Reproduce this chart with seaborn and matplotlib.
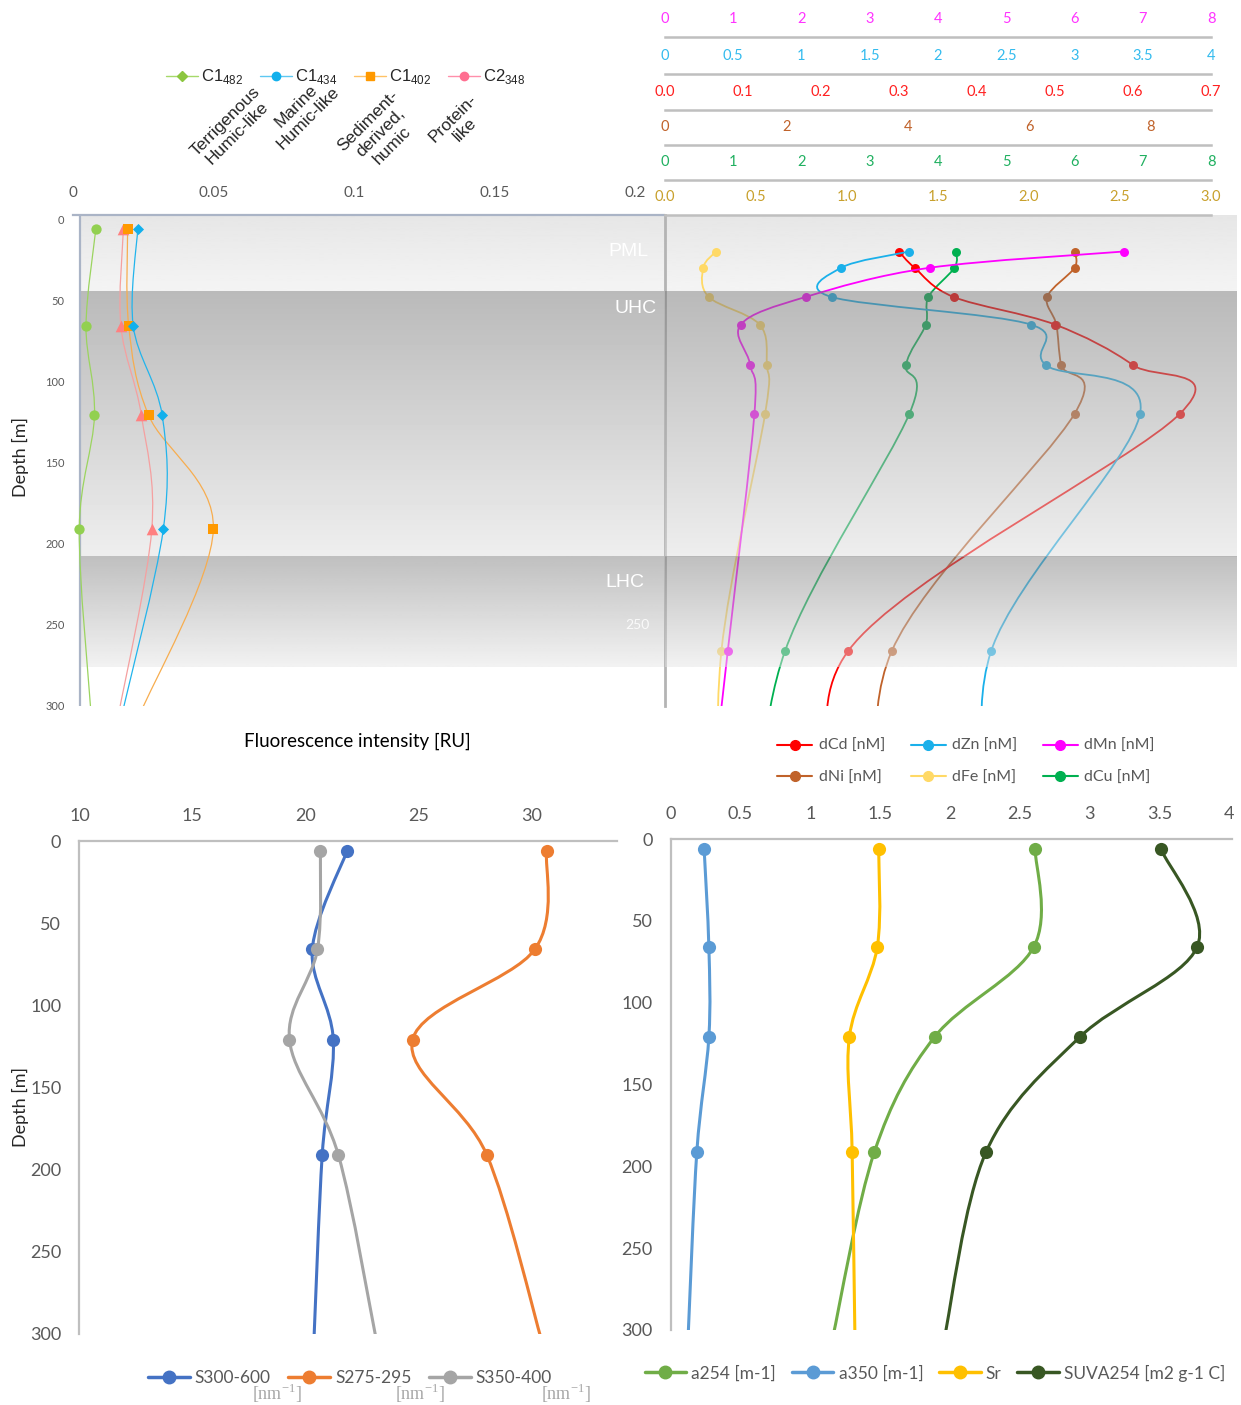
import numpy as np
import matplotlib
matplotlib.use("Agg")
import matplotlib.pyplot as plt
import matplotlib.ticker as mticker
from matplotlib.lines import Line2D
from matplotlib.path import Path
from matplotlib.patches import PathPatch
import seaborn as sns

sns.set_style("white")
plt.rcParams["font.family"] = ["Lato", "DejaVu Sans"]
plt.rcParams["mathtext.fontset"] = "custom"
plt.rcParams["mathtext.rm"] = "Liberation Sans"

# ─── DATA ────────────────────────────────────────────────────────────────────
# water-column layers (depth, m)
layer_names = ["PML", "UHC", "LHC"]
layer_top = [-2.5, 44.5, 208]
layer_bottom = [44.5, 208, 276]

# FDOM components, fluorescence intensity [RU]
fdom_depth = [6, 66, 121, 191, 305]
c1_482 = [0.0082, 0.0047, 0.0077, 0.0023, 0.0065]
c1_434 = [0.0231, 0.0215, 0.0318, 0.0322, 0.0175]
c1_402 = [0.0195, 0.0199, 0.0270, 0.0500, 0.0239]
c2_348 = [0.0180, 0.0171, 0.0244, 0.0281, 0.0163]

# dissolved trace metals [nM]
metal_depth = [20, 30, 48, 65, 90, 120, 266, 389]
dCd = [0.30, 0.32, 0.37, 0.50, 0.60, 0.66, 0.235, 0.249]
dZn = [1.79, 1.29, 1.22, 2.68, 2.79, 3.48, 2.39, 2.42]
dMn = [6.72, 3.88, 2.06, 1.11, 1.25, 1.31, 0.92, 0.59]
dNi = [6.75, 6.75, 6.30, 6.45, 6.53, 6.75, 3.74, 3.62]
dFe = [0.28, 0.21, 0.24, 0.52, 0.56, 0.55, 0.31, 0.30]
dCu = [4.27, 4.24, 3.86, 3.82, 3.53, 3.58, 1.76, 1.31]

# CDOM spectral slopes and absorption
cdom_depth = [6, 66, 121, 191, 305]
s300_600 = [21.85, 20.31, 21.24, 20.75, 20.38]
s275_295 = [30.68, 30.16, 24.75, 28.03, 30.48]
s350_400 = [20.67, 20.54, 19.30, 21.46, 23.16]
a254 = [2.61, 2.60, 1.89, 1.46, 1.16]
a350 = [0.24, 0.274, 0.274, 0.188, 0.125]
sr = [1.49, 1.48, 1.28, 1.30, 1.32]
suva254 = [3.51, 3.77, 2.93, 2.26, 1.96]

# ─── HELPERS ─────────────────────────────────────────────────────────────────
W, H = 1241, 1405
fig = plt.figure(figsize=(W / 100, H / 100), dpi=100)


def box(x0, y0, x1, y1):
    return [x0 / W, 1 - y1 / H, (x1 - x0) / W, (y1 - y0) / H]


def smooth(ax, xs, ys, color, lw):
    # Excel-like smoothed line: Catmull-Rom bezier in screen space
    pts = ax.transData.transform(np.column_stack([xs, ys]))
    ext = np.vstack([pts[0], pts, pts[-1]])
    verts, codes = [pts[0]], [Path.MOVETO]
    for i in range(len(pts) - 1):
        p0, p1, p2, p3 = ext[i], ext[i + 1], ext[i + 2], ext[i + 3]
        verts += [p1 + (p2 - p0) / 6, p2 - (p3 - p1) / 6, p2]
        codes += [Path.CURVE4] * 3
    verts = ax.transData.inverted().transform(np.array(verts))
    ax.add_patch(PathPatch(Path(verts, codes), fill=False, edgecolor=color,
                           lw=lw, zorder=3, capstyle="round"))


def dots(ax, xs, ys, color, marker="o", size=50):
    sns.scatterplot(x=xs, y=ys, ax=ax, color=color, marker=marker, s=size,
                    linewidth=0, zorder=4, legend=False)
    ax.set_xlabel("")
    ax.set_ylabel("")


GRAY_TXT = "#595959"

# ─── BACKGROUND LAYERS ───────────────────────────────────────────────────────
band_shades = [(230, 244), (186, 238), (192, 242)]
split = (665 - 80) / (1237 - 80)
ax_bg = fig.add_axes(box(80, 215, 1237, 706))
for i, (top, bot) in enumerate(zip(layer_top, layer_bottom)):
    ct, cb = band_shades[i]
    grad = np.linspace(ct, cb, 64).reshape(-1, 1)
    right = 1 if i == 0 else split
    ax_bg.imshow(grad, cmap="gray", vmin=0, vmax=255, extent=(0, right, bot, top),
                 aspect="auto", interpolation="bilinear")
ax_bg.set_xlim(0, 1)
ax_bg.set_ylim(300, -2.5)
ax_bg.set_axis_off()
label_y = {"PML": 20, "UHC": 55, "LHC": 224}
label_x = {"PML": 0.491, "UHC": 0.498, "LHC": 0.488}
for name in layer_names:
    ax_bg.text(label_x[name], label_y[name], name, color="white", fontsize=14,
               family="Liberation Sans", ha="right", va="center")
ax_bg.text(0.492, 250, "250", color="white", fontsize=10, ha="right", va="center", alpha=0.85)

# ─── TOP LEFT: FDOM ──────────────────────────────────────────────────────────
ax_f = fig.add_axes(box(72.8, 215, 664, 706))
ax_f.patch.set_alpha(0)
ax_f.set_xlim(0, 0.2103)
ax_f.set_ylim(300, -2.5)
fdom = [
    (c1_482, "#92d050", "o", 55),
    (c2_348, "#ff8080", "^", 70),
    (c1_402, "#ffa31a", "s", 60),
    (c1_434, "#12b0ec", "D", 32),
]
line_cols = {"#92d050": "#9bd45f", "#ff8080": "#f5a0a0", "#ffa31a": "#f7ad4f", "#12b0ec": "#22b4ec"}
for vals, col, mk, sz in fdom:
    smooth(ax_f, vals, fdom_depth, line_cols[col], 0.9)
for vals, col, mk, sz in fdom:
    dots(ax_f, vals, fdom_depth, col if col != "#ffa31a" else "#ff9900", mk, sz)
ax_f.axvline(0.0024, color="#aab4c6", lw=1.6, zorder=2)
for s in ["left", "right", "bottom"]:
    ax_f.spines[s].set_visible(False)
ax_f.spines["top"].set_color("#aab4c6")
ax_f.spines["top"].set_linewidth(1.6)
ax_f.set_xticks([0, 0.05, 0.1, 0.15, 0.2])
ax_f.xaxis.set_major_formatter(mticker.FuncFormatter(lambda v, _: f"{v:g}"))
ax_f.tick_params(axis="x", top=True, labeltop=True, bottom=False, labelbottom=False,
                 length=0, pad=11, labelsize=11, labelcolor=GRAY_TXT)
ax_f.set_yticks(range(0, 301, 50))
ax_f.tick_params(axis="y", length=0, pad=6, labelsize=8, labelcolor=GRAY_TXT)

fig.text(357 / W, 1 - 741 / H, "Fluorescence intensity [RU]", fontsize=13.5,
         ha="center", va="center", color="black")
fig.text(20 / W, 1 - 457 / H, "Depth [m]", fontsize=13, rotation=90,
         ha="center", va="center")

fdom_handles = [
    Line2D([], [], color="#a6d96a", lw=1, marker="D", ms=5, mfc="#8cc63f", mec="#8cc63f"),
    Line2D([], [], color="#5ec8f2", lw=1, marker="o", ms=6, mfc="#12b0ec", mec="#12b0ec"),
    Line2D([], [], color="#ffc266", lw=1, marker="s", ms=6, mfc="#ff9900", mec="#ff9900"),
    Line2D([], [], color="#ff8fab", lw=1, marker="o", ms=6, mfc="#ff6f91", mec="#ff6f91"),
]
fdom_labels = [r"C1$_{\mathregular{482}}$", r"C1$_{\mathregular{434}}$",
               r"C1$_{\mathregular{402}}$", r"C2$_{\mathregular{348}}$"]
fig.legend(fdom_handles, fdom_labels, ncol=4, loc="center",
           bbox_to_anchor=(346 / W, 1 - 77 / H), frameon=False,
           prop={"family": "Liberation Sans", "size": 12},
           handlelength=1.9, handletextpad=0.2, columnspacing=1.0)

fdom_names = ["Terrigenous\nHumic-like", "Marine\nHumic-like",
              "Sediment-\nderived,\nhumic", "Protein-\nlike"]
name_pos = [(231, 127), (302, 112), (380, 133), (459, 124)]
for name, (px, py) in zip(fdom_names, name_pos):
    fig.text(px / W, 1 - py / H, name, rotation=45, fontsize=12.5,
             family="Liberation Sans", ha="center", va="center",
             multialignment="center", rotation_mode="anchor", linespacing=1.15)

# ─── TOP RIGHT: TRACE METALS ─────────────────────────────────────────────────
rows = [
    # series, values, xmax, ticks, tick color, line color, offset(px)
    ("dFe", dFe, 3.0, np.arange(0, 3.01, 0.5), "#c8a02c", "#ffd966", 0),
    ("dCu", dCu, 8, range(0, 9), "#20b060", "#00b050", 35),
    ("dNi", dNi, 9, range(0, 9, 2), "#c0622a", "#c0622a", 70),
    ("dCd", dCd, 0.7, np.arange(0, 0.71, 0.1), "#ff2020", "#ff0000", 105),
    ("dZn", dZn, 4, np.arange(0, 4.01, 0.5), "#33bbee", "#1ab0ea", 141),
    ("dMn", dMn, 8, range(0, 9), "#ff33ff", "#ff00ff", 178),
]
fmt = {"dFe": "{:.1f}", "dCd": "{:.1f}"}
for k, (name, vals, xmax, ticks, tcol, lcol, off) in enumerate(rows):
    ax = fig.add_axes(box(665, 215, 1211, 706))
    ax.patch.set_alpha(0)
    ax.set_xlim(0, xmax)
    ax.set_ylim(300, -2.5)
    smooth(ax, vals, metal_depth, lcol, 1.3)
    dots(ax, vals, metal_depth, lcol, "o", 42)
    for s in ["left", "right", "bottom"]:
        ax.spines[s].set_visible(False)
    if k == 0:
        ax.spines["left"].set_visible(True)
        ax.spines["left"].set_color("#b4b4b4")
        ax.spines["left"].set_linewidth(2)
    ax.spines["top"].set_position(("outward", off * 0.72))
    ax.spines["top"].set_color("#bfbfbf")
    ax.spines["top"].set_linewidth(1.8)
    ax.set_yticks([])
    ax.set_xticks(list(ticks))
    f = fmt.get(name, "{:g}")
    ax.xaxis.set_major_formatter(mticker.FuncFormatter(lambda v, _, f=f: f.format(v)))
    ax.tick_params(axis="x", top=True, labeltop=True, bottom=False, labelbottom=False,
                   length=0, pad=8, labelsize=10.5, labelcolor=tcol)

# grey overlay of the halocline layers on the metal profiles
ax_ov = fig.add_axes(box(665, 215, 1237, 706), zorder=5)
for i, (top, bot) in enumerate(zip(layer_top, layer_bottom)):
    if i == 0:
        continue
    ct, cb = band_shades[i]
    grad = np.linspace(2 * ct - 255, 2 * cb - 255, 64).reshape(-1, 1)
    ax_ov.imshow(grad, cmap="gray", vmin=0, vmax=255, alpha=0.5,
                 extent=(0, 1, bot, top), aspect="auto", interpolation="bilinear")
ax_ov.set_xlim(0, 1)
ax_ov.set_ylim(300, -2.5)
ax_ov.set_axis_off()

metal_handles = [Line2D([], [], color=c, lw=1.5, marker="o", ms=7)
                 for c in ["#ff0000", "#c0622a", "#1ab0ea", "#ffd966", "#ff00ff", "#00b050"]]
metal_labels = ["dCd [nM]", "dNi [nM]", "dZn [nM]", "dFe [nM]", "dMn [nM]", "dCu [nM]"]
leg = fig.legend(metal_handles, metal_labels, ncol=3, loc="center",
                 bbox_to_anchor=(966 / W, 1 - 762 / H), frameon=False, fontsize=11.5,
                 handlelength=2.2, handletextpad=0.4, columnspacing=1.6, labelspacing=1.1)
for t in leg.get_texts():
    t.set_color(GRAY_TXT)

# ─── BOTTOM PANELS ───────────────────────────────────────────────────────────
def profile_axes(rect, xlim, xticks):
    ax = fig.add_axes(rect)
    ax.set_xlim(*xlim)
    ax.set_ylim(300, 0)
    for s in ["right", "bottom"]:
        ax.spines[s].set_visible(False)
    for s in ["top", "left"]:
        ax.spines[s].set_color("#bfbfbf")
        ax.spines[s].set_linewidth(1.6)
    ax.set_xticks(xticks)
    ax.xaxis.set_major_formatter(mticker.FuncFormatter(lambda v, _: f"{v:g}"))
    ax.set_yticks(range(0, 301, 50))
    ax.tick_params(axis="x", top=True, labeltop=True, bottom=False, labelbottom=False,
                   length=0, pad=12, labelsize=13, labelcolor=GRAY_TXT)
    ax.tick_params(axis="y", length=0, pad=13, labelsize=13, labelcolor=GRAY_TXT)
    return ax


ax_s = profile_axes(box(79.4, 841, 617, 1333.6), (10, 33.8), range(10, 31, 5))
slopes = [(s300_600, "#4472c4", "S300-600"), (s275_295, "#ed7d31", "S275-295"),
          (s350_400, "#a5a5a5", "S350-400")]
for vals, col, _ in slopes:
    smooth(ax_s, vals, cdom_depth, col, 2.2)
    dots(ax_s, vals, cdom_depth, col, "o", 90)
fig.text(20 / W, 1 - 1107 / H, "Depth [m]", fontsize=13, rotation=90,
         ha="center", va="center")
h_s = [Line2D([], [], color=c, lw=2.5, marker="o", ms=9) for _, c, _ in slopes]
leg = fig.legend(h_s, [n for _, _, n in slopes], ncol=3, loc="center",
                 bbox_to_anchor=(350 / W, 1 - 1378 / H), frameon=False, fontsize=12.5,
                 handlelength=2.4, handletextpad=0.3, columnspacing=1.0)
for t in leg.get_texts():
    t.set_color(GRAY_TXT)
for px in [277, 420, 566]:
    fig.text(px / W, 1 - 1393 / H, r"[nm$^{\mathregular{-1}}$]", fontsize=13,
             family="Liberation Serif", color="#a6a6a6", ha="center", va="center")

ax_a = profile_axes(box(670.6, 839, 1232, 1330), (0, 4.02), np.arange(0, 4.01, 0.5))
absorb = [(a254, "#70ad47", "a254 [m-1]"), (a350, "#5b9bd5", "a350 [m-1]"),
          (sr, "#ffc000", "Sr"), (suva254, "#385723", "SUVA254 [m2 g-1 C]")]
for vals, col, _ in absorb:
    smooth(ax_a, vals, cdom_depth, col, 2.2)
    dots(ax_a, vals, cdom_depth, col, "o", 90)
h_a = [Line2D([], [], color=c, lw=2.5, marker="o", ms=9) for _, c, _ in absorb]
leg = fig.legend(h_a, [n for _, _, n in absorb], ncol=4, loc="center",
                 bbox_to_anchor=(935 / W, 1 - 1373 / H), frameon=False, fontsize=12.5,
                 handlelength=2.4, handletextpad=0.3, columnspacing=0.9)
for t in leg.get_texts():
    t.set_color(GRAY_TXT)

fig.savefig("out.png", dpi=100)
